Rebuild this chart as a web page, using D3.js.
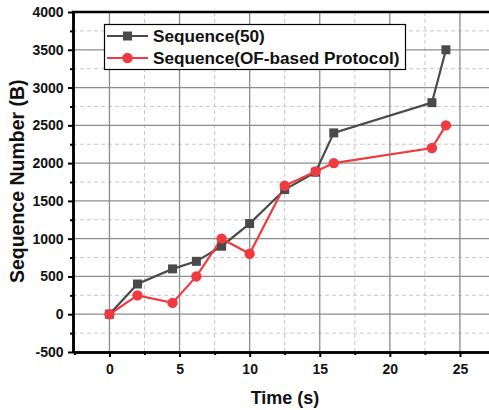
<!DOCTYPE html>
<html>
<head>
<meta charset="utf-8">
<script src="https://cdn.jsdelivr.net/npm/d3@7"></script>
<style>
    body { margin: 0; background: #fff; }
    svg { display: block; font-family: Arial, "Liberation Sans", sans-serif; }
</style>
</head>
<body>
<div id="chart"></div>
<script>
// Data
const timeS = [0, 2, 4.5, 6.2, 8, 10, 12.5, 14.7, 16, 23, 24];
const seq50 = [0, 400, 600, 700, 900, 1200, 1650, 1880, 2400, 2800, 3500];
const seqOF = [0, 250, 150, 500, 1000, 800, 1700, 1890, 2000, 2200, 2500];
const seriesNames = ['Sequence(50)', 'Sequence(OF-based Protocol)'];
const seriesColors = ['#4a4a4a', '#ef3a3f'];
const xTicks = [0, 5, 10, 15, 20, 25];
const yTicks = [-500, 0, 500, 1000, 1500, 2000, 2500, 3000, 3500, 4000];

const width = 489, height = 410;
const margin = { top: 12, right: -6, bottom: 58, left: 73 };

const svg = d3.select('#chart').append('svg')
    .attr('width', width)
    .attr('height', height);

const x = d3.scaleLinear().domain([-2.6, 27.5]).range([margin.left, width - margin.right]);
const y = d3.scaleLinear().domain([-500, 4000]).range([height - margin.bottom, margin.top]);

// plain integer labels with ascii hyphen for negatives
const fmt = d => String(d);

// Grid: minor dashed, major solid
const grid = svg.append('g');
const xMinor = d3.range(-2.5, 27.6, 5);
const yMinor = d3.range(-250, 4000, 500);

grid.selectAll('.xm').data(xMinor).enter().append('line')
    .attr('x1', d => x(d)).attr('x2', d => x(d))
    .attr('y1', y(-500)).attr('y2', y(4000))
    .attr('stroke', '#c8c8c8').attr('stroke-dasharray', '4,3').attr('stroke-width', 1);
grid.selectAll('.ym').data(yMinor).enter().append('line')
    .attr('x1', x(-2.6)).attr('x2', width)
    .attr('y1', d => y(d)).attr('y2', d => y(d))
    .attr('stroke', '#c8c8c8').attr('stroke-dasharray', '4,3').attr('stroke-width', 1);
grid.selectAll('.xM').data(xTicks).enter().append('line')
    .attr('x1', d => x(d)).attr('x2', d => x(d))
    .attr('y1', y(-500)).attr('y2', y(4000))
    .attr('stroke', '#8c8c8c').attr('stroke-width', 1.3);
grid.selectAll('.yM').data(yTicks.slice(1, -1)).enter().append('line')
    .attr('x1', x(-2.6)).attr('x2', width)
    .attr('y1', d => y(d)).attr('y2', d => y(d))
    .attr('stroke', '#8c8c8c').attr('stroke-width', 1.3);

// Axes
const xAxis = svg.append('g')
    .attr('transform', `translate(0,${y(-500)})`)
    .call(d3.axisBottom(x).tickValues(xTicks).tickSize(5).tickSizeOuter(0).tickFormat(fmt));
const xAxisMinor = svg.append('g')
    .attr('transform', `translate(0,${y(-500)})`)
    .call(d3.axisBottom(x).tickValues(xMinor.filter(d => d > -2.6)).tickSize(3).tickFormat('').tickSizeOuter(0));
const yAxis = svg.append('g')
    .attr('transform', `translate(${x(-2.6)},0)`)
    .call(d3.axisLeft(y).tickValues(yTicks).tickSize(5).tickSizeOuter(0).tickFormat(fmt));
const yAxisMinor = svg.append('g')
    .attr('transform', `translate(${x(-2.6)},0)`)
    .call(d3.axisLeft(y).tickValues(yMinor).tickSize(3).tickFormat('').tickSizeOuter(0));

[xAxis, xAxisMinor, yAxis, yAxisMinor].forEach(g => {
    g.select('.domain').attr('stroke', '#000').attr('stroke-width', 2.5);
    g.selectAll('.tick line').attr('stroke', '#000').attr('stroke-width', 2);
    g.selectAll('.tick text')
        .attr('fill', '#111')
        .attr('font-size', '14px')
        .attr('font-weight', 'bold')
        .attr('font-family', 'Arial, "Liberation Sans", sans-serif');
});
xAxis.selectAll('.tick text').attr('dy', '1.0em');
yAxis.selectAll('.tick text').attr('dx', '-0.1em');

// Top border
svg.append('line')
    .attr('x1', x(-2.6) - 1).attr('x2', width)
    .attr('y1', y(4000)).attr('y2', y(4000))
    .attr('stroke', '#000').attr('stroke-width', 2.5);

// Series
const series = [seq50, seqOF];
const line = d3.line().x((d, i) => x(timeS[i])).y(d => y(d));

series.forEach((vals, s) => {
    svg.append('path')
        .datum(vals)
        .attr('fill', 'none')
        .attr('stroke', seriesColors[s])
        .attr('stroke-width', 2.2)
        .attr('d', line);
});

// Markers: black squares first, red circles on top
const sq = 9;
svg.append('g').selectAll('rect').data(seq50).enter().append('rect')
    .attr('x', (d, i) => x(timeS[i]) - sq / 2)
    .attr('y', d => y(d) - sq / 2)
    .attr('width', sq).attr('height', sq)
    .attr('fill', seriesColors[0]);
svg.append('g').selectAll('circle').data(seqOF).enter().append('circle')
    .attr('cx', (d, i) => x(timeS[i]))
    .attr('cy', d => y(d))
    .attr('r', 5.2)
    .attr('fill', seriesColors[1]);

// Legend
const legend = svg.append('g');
legend.append('rect')
    .attr('x', 104.5).attr('y', 24.5)
    .attr('width', 301).attr('height', 45)
    .attr('fill', '#fff').attr('stroke', '#000').attr('stroke-width', 1.2);
seriesNames.forEach((name, i) => {
    const ly = 36 + i * 22;
    legend.append('line')
        .attr('x1', 107).attr('x2', 148)
        .attr('y1', ly).attr('y2', ly)
        .attr('stroke', seriesColors[i]).attr('stroke-width', 2.2);
    if (i === 0) {
        legend.append('rect')
            .attr('x', 127.5 - sq / 2).attr('y', ly - sq / 2)
            .attr('width', sq).attr('height', sq)
            .attr('fill', seriesColors[i]);
    } else {
        legend.append('circle')
            .attr('cx', 127.5).attr('cy', ly).attr('r', 5.2)
            .attr('fill', seriesColors[i]);
    }
    legend.append('text')
        .attr('x', 153).attr('y', ly + 6)
        .attr('font-size', '17.2px').attr('font-weight', 'bold')
        .attr('fill', '#111')
        .text(name);
});

// Axis titles
svg.append('text')
    .attr('x', 285).attr('y', 404)
    .attr('text-anchor', 'middle')
    .attr('font-size', '18px').attr('font-weight', 'bold')
    .attr('fill', '#111')
    .text('Time (s)');
svg.append('text')
    .attr('transform', `translate(24,${y(1760)}) rotate(-90)`)
    .attr('text-anchor', 'middle')
    .attr('font-size', '19.5px').attr('font-weight', 'bold')
    .attr('fill', '#111')
    .text('Sequence Number (B)');
</script>
</body>
</html>
